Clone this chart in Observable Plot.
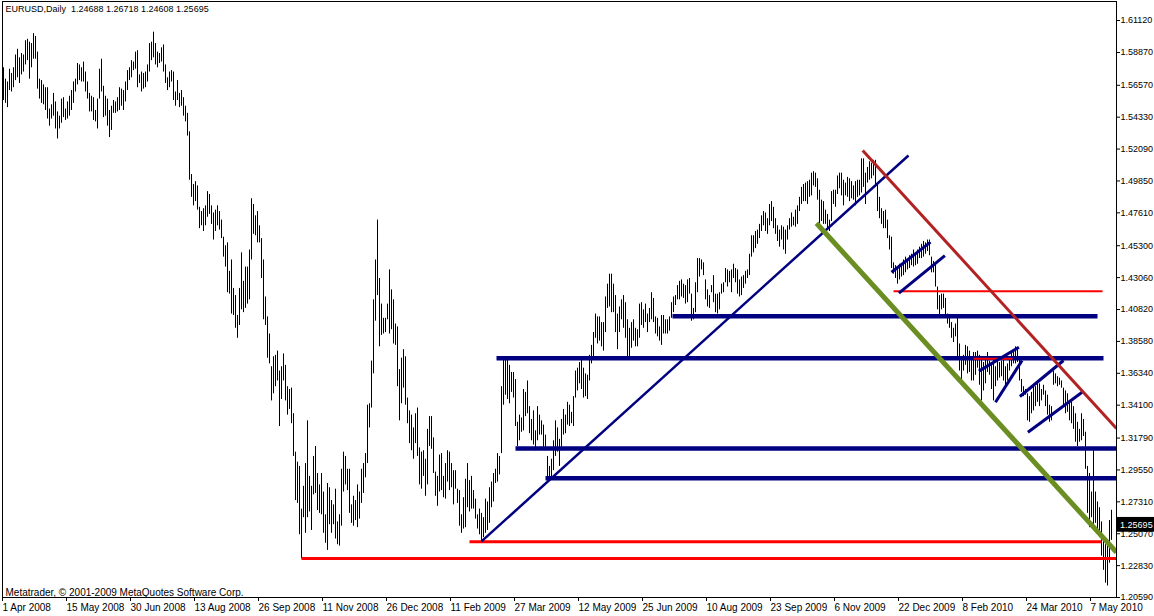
<!DOCTYPE html>
<html><head><meta charset="utf-8">
<script src="https://cdn.jsdelivr.net/npm/d3@7"></script>
<script src="https://cdn.jsdelivr.net/npm/@observablehq/plot@0.6"></script>
<style>
html,body{margin:0;padding:0;background:#fff;}
#chart{width:1154px;height:616px;overflow:hidden;}
</style></head><body><div id="chart"></div>
<script>
// ---- data ----
const symbol = "EURUSD";
const period = "Daily";
const lastBar = {open: 1.24688, high: 1.26718, low: 1.24608, close: 1.25695};

const highs = [
1.578,1.570,1.568,1.577,1.574,1.578,1.587,1.591,1.585,1.588,
1.587,1.597,1.598,1.596,1.595,1.602,1.600,1.589,1.570,1.569,
1.566,1.564,1.564,1.549,1.552,1.560,1.554,1.547,1.544,1.556,
1.557,1.549,1.554,1.558,1.562,1.568,1.570,1.581,1.580,1.578,
1.582,1.575,1.568,1.560,1.558,1.557,1.548,1.556,1.577,1.584,
1.565,1.558,1.556,1.548,1.551,1.555,1.554,1.557,1.564,1.563,
1.562,1.568,1.576,1.578,1.583,1.582,1.589,1.590,1.573,1.575,
1.574,1.575,1.580,1.595,1.596,1.603,1.595,1.589,1.588,1.592,
1.594,1.580,1.571,1.575,1.576,1.575,1.561,1.569,1.560,1.562,
1.557,1.551,1.546,1.533,1.503,1.496,1.498,1.495,1.480,1.477,
1.479,1.481,1.491,1.489,1.481,1.476,1.478,1.481,1.477,1.471,
1.459,1.453,1.455,1.435,1.443,1.423,1.418,1.404,1.423,1.448,
1.428,1.438,1.438,1.450,1.486,1.482,1.474,1.477,1.467,1.458,
1.443,1.417,1.403,1.391,1.368,1.375,1.376,1.379,1.365,1.368,
1.377,1.369,1.354,1.352,1.353,1.335,1.308,1.301,1.298,1.268,
1.284,1.300,1.330,1.291,1.284,1.305,1.312,1.293,1.285,1.293,
1.280,1.264,1.286,1.283,1.274,1.271,1.282,1.259,1.264,1.296,
1.308,1.305,1.296,1.296,1.271,1.277,1.274,1.285,1.280,1.296,
1.300,1.307,1.341,1.342,1.372,1.415,1.443,1.471,1.430,1.412,
1.402,1.402,1.412,1.436,1.422,1.415,1.398,1.396,1.366,1.374,
1.380,1.375,1.346,1.337,1.334,1.325,1.335,1.339,1.311,1.308,
1.309,1.303,1.324,1.333,1.333,1.318,1.294,1.291,1.306,1.307,
1.291,1.300,1.309,1.308,1.300,1.295,1.295,1.282,1.281,1.264,
1.276,1.289,1.300,1.288,1.291,1.281,1.275,1.264,1.268,1.265,
1.262,1.275,1.273,1.283,1.287,1.293,1.296,1.307,1.305,1.354,
1.374,1.374,1.374,1.369,1.364,1.364,1.359,1.329,1.334,1.332,
1.352,1.350,1.358,1.340,1.331,1.337,1.323,1.340,1.334,1.330,
1.327,1.320,1.305,1.298,1.303,1.316,1.330,1.325,1.317,1.331,
1.338,1.334,1.343,1.341,1.336,1.347,1.365,1.367,1.371,1.374,
1.367,1.363,1.362,1.376,1.383,1.392,1.405,1.403,1.403,1.399,
1.399,1.417,1.426,1.433,1.433,1.426,1.418,1.405,1.410,1.415,
1.418,1.413,1.401,1.395,1.399,1.401,1.395,1.394,1.412,1.413,
1.408,1.412,1.405,1.409,1.420,1.416,1.403,1.402,1.396,1.404,
1.404,1.401,1.401,1.403,1.413,1.417,1.418,1.425,1.428,1.429,
1.426,1.425,1.429,1.430,1.419,1.409,1.427,1.444,1.444,1.443,
1.441,1.429,1.422,1.418,1.425,1.432,1.419,1.419,1.420,1.426,
1.427,1.437,1.436,1.435,1.436,1.440,1.437,1.436,1.429,1.431,
1.432,1.435,1.436,1.447,1.460,1.460,1.463,1.464,1.468,1.474,
1.477,1.476,1.472,1.482,1.484,1.480,1.472,1.467,1.464,1.467,
1.466,1.464,1.467,1.472,1.476,1.473,1.478,1.481,1.487,1.494,
1.496,1.497,1.498,1.499,1.504,1.505,1.504,1.500,1.492,1.485,
1.484,1.478,1.475,1.471,1.491,1.492,1.492,1.502,1.504,1.504,
1.499,1.497,1.501,1.500,1.498,1.495,1.498,1.499,1.499,1.514,
1.514,1.504,1.508,1.512,1.511,1.513,1.513,1.496,1.487,1.479,
1.477,1.478,1.471,1.460,1.459,1.441,1.439,1.437,1.440,1.439,
1.443,1.445,1.444,1.446,1.447,1.450,1.448,1.450,1.452,1.454,
1.456,1.455,1.457,1.457,1.445,1.442,1.441,1.424,1.418,1.419,
1.419,1.416,1.405,1.404,1.399,1.395,1.398,1.403,1.384,1.374,
1.376,1.383,1.382,1.379,1.374,1.378,1.378,1.379,1.376,1.375,
1.371,1.374,1.378,1.372,1.369,1.375,1.368,1.375,1.371,1.372,
1.375,1.368,1.370,1.374,1.379,1.378,1.382,1.380,1.374,1.359,
1.354,1.352,1.349,1.347,1.350,1.355,1.354,1.356,1.356,1.352,
1.355,1.351,1.348,1.341,1.340,1.365,1.363,1.361,1.360,1.358,
1.353,1.351,1.349,1.343,1.343,1.340,1.335,1.329,1.324,1.335,
1.331,1.322,1.298,1.293,1.280,1.310,1.280,1.273,1.269,1.259,
1.247,1.243,1.244,1.260,1.26718
];
const lows = [
1.555,1.553,1.550,1.562,1.561,1.564,1.569,1.571,1.567,1.573,
1.575,1.580,1.583,1.570,1.578,1.584,1.584,1.563,1.556,1.553,
1.552,1.548,1.542,1.537,1.542,1.544,1.535,1.528,1.535,1.539,
1.543,1.541,1.542,1.544,1.548,1.553,1.561,1.566,1.569,1.568,
1.568,1.561,1.556,1.547,1.547,1.541,1.540,1.535,1.556,1.561,
1.543,1.544,1.537,1.529,1.534,1.546,1.546,1.547,1.548,1.551,
1.548,1.554,1.562,1.569,1.571,1.576,1.577,1.564,1.567,1.561,
1.563,1.564,1.568,1.575,1.583,1.585,1.580,1.578,1.581,1.582,
1.575,1.567,1.562,1.564,1.568,1.555,1.551,1.555,1.550,1.551,
1.544,1.540,1.530,1.499,1.487,1.481,1.484,1.478,1.465,1.467,
1.463,1.467,1.473,1.475,1.468,1.457,1.463,1.467,1.464,1.458,
1.445,1.438,1.420,1.419,1.405,1.404,1.395,1.388,1.397,1.408,
1.406,1.409,1.412,1.415,1.443,1.461,1.460,1.455,1.455,1.430,
1.401,1.397,1.374,1.370,1.344,1.349,1.354,1.358,1.326,1.345,
1.358,1.344,1.334,1.338,1.328,1.305,1.274,1.272,1.250,1.233,
1.262,1.251,1.262,1.266,1.253,1.278,1.279,1.267,1.265,1.264,
1.251,1.244,1.239,1.257,1.251,1.257,1.247,1.243,1.242,1.256,
1.280,1.285,1.281,1.265,1.258,1.256,1.260,1.255,1.261,1.272,
1.279,1.290,1.300,1.325,1.339,1.363,1.400,1.418,1.382,1.390,
1.391,1.392,1.401,1.391,1.394,1.384,1.383,1.354,1.330,1.342,
1.353,1.341,1.328,1.314,1.309,1.303,1.314,1.305,1.285,1.282,
1.291,1.277,1.285,1.312,1.310,1.293,1.277,1.270,1.280,1.281,
1.276,1.275,1.287,1.281,1.283,1.271,1.282,1.272,1.256,1.251,
1.254,1.255,1.269,1.266,1.268,1.268,1.261,1.254,1.250,1.246,
1.248,1.251,1.253,1.258,1.269,1.273,1.286,1.287,1.292,1.307,
1.341,1.348,1.345,1.342,1.350,1.346,1.326,1.312,1.316,1.322,
1.323,1.333,1.335,1.321,1.316,1.313,1.309,1.316,1.320,1.320,
1.310,1.309,1.288,1.289,1.290,1.295,1.305,1.308,1.298,1.309,
1.320,1.321,1.327,1.326,1.328,1.326,1.346,1.351,1.356,1.352,
1.346,1.347,1.345,1.358,1.370,1.375,1.388,1.384,1.386,1.382,
1.379,1.392,1.409,1.410,1.406,1.406,1.392,1.380,1.392,1.401,
1.395,1.388,1.374,1.374,1.381,1.386,1.382,1.382,1.388,1.397,
1.395,1.399,1.392,1.399,1.401,1.399,1.391,1.389,1.386,1.383,
1.391,1.391,1.391,1.393,1.402,1.406,1.411,1.415,1.415,1.417,
1.416,1.412,1.413,1.419,1.400,1.401,1.406,1.420,1.431,1.436,
1.432,1.415,1.410,1.409,1.420,1.413,1.406,1.405,1.408,1.419,
1.420,1.427,1.424,1.427,1.420,1.430,1.427,1.419,1.417,1.418,
1.423,1.426,1.430,1.432,1.445,1.448,1.451,1.454,1.458,1.463,
1.467,1.463,1.461,1.467,1.470,1.465,1.461,1.456,1.452,1.457,
1.450,1.447,1.457,1.464,1.466,1.467,1.466,1.468,1.477,1.482,
1.484,1.484,1.482,1.487,1.488,1.495,1.494,1.485,1.468,1.470,
1.468,1.468,1.464,1.463,1.470,1.482,1.480,1.489,1.493,1.488,
1.481,1.488,1.487,1.484,1.486,1.485,1.481,1.487,1.488,1.490,
1.494,1.482,1.497,1.499,1.500,1.502,1.494,1.477,1.472,1.468,
1.465,1.465,1.458,1.450,1.437,1.433,1.430,1.426,1.429,1.431,
1.432,1.434,1.436,1.437,1.439,1.438,1.439,1.440,1.444,1.444,
1.445,1.447,1.449,1.446,1.434,1.434,1.424,1.408,1.403,1.408,
1.409,1.404,1.398,1.395,1.388,1.385,1.389,1.375,1.365,1.358,
1.365,1.369,1.363,1.364,1.358,1.358,1.362,1.367,1.355,1.344,
1.351,1.356,1.364,1.362,1.352,1.344,1.354,1.358,1.360,1.361,
1.358,1.354,1.358,1.365,1.368,1.370,1.370,1.371,1.358,1.350,
1.347,1.348,1.330,1.329,1.335,1.337,1.340,1.343,1.340,1.344,
1.348,1.340,1.334,1.329,1.330,1.355,1.356,1.354,1.355,1.353,
1.340,1.335,1.336,1.330,1.328,1.324,1.315,1.312,1.315,1.316,
1.319,1.296,1.265,1.255,1.262,1.253,1.258,1.253,1.248,1.235,
1.225,1.216,1.214,1.230,1.24608
];

const priceTicks = [1.61120,1.58870,1.56570,1.54330,1.52090,1.49850,1.47610,1.45300,1.43060,1.40820,
  1.38580,1.36340,1.34100,1.31790,1.29550,1.27310,1.25070,1.22830,1.20590];
const dateLabels = ["1 Apr 2008","15 May 2008","30 Jun 2008","13 Aug 2008","26 Sep 2008","11 Nov 2008",
  "26 Dec 2008","11 Feb 2009","27 Mar 2009","12 May 2009","25 Jun 2009","10 Aug 2009","23 Sep 2009",
  "6 Nov 2009","22 Dec 2009","8 Feb 2010","24 Mar 2010","7 May 2010"];
const dateBars = [0,32,64,96,128,160,192,224,256,288,320,352,384,416,448,480,512,544];

// chart objects (anchors: bar index, price)
const redLevelPrice = [1.2333, 1.2450, 1.4211, 1.3736];
const redLevelFrom  = [150, 234, 446, 486];
const redLevelTo    = [557.5, 550, 550.5, 505.5];
const navyLevelPrice = [1.4035, 1.3740, 1.3106, 1.2897];
const navyLevelFrom  = [335.5, 247.5, 257, 272];
const navyLevelTo    = [548, 551, 557.5, 557.5];
const trendFrom = {bar: 240, price: 1.2453};
const trendTo   = {bar: 453.5, price: 1.5164};
const greenFrom = {bar: 407.5, price: 1.4688};
const greenTo   = {bar: 557.5, price: 1.2377};
const brickFrom = {bar: 430.6, price: 1.5199};
const brickTo   = {bar: 557.5, price: 1.3246};
const chanBar1   = [445, 448.7, 488.7, 497, 509.2, 513.2];
const chanPrice1 = [1.4344, 1.4197, 1.3649, 1.3431, 1.3471, 1.3220];
const chanBar2   = [464.5, 471.7, 508.7, 510.3, 531, 540.3];
const chanPrice2 = [1.4555, 1.4461, 1.3817, 1.3724, 1.3724, 1.3501];
const copyright = "Metatrader, \u00A9 2001-2009 MetaQuotes Software Corp.";

// ---- build ----
const bars = highs.map((h, k) => ({i: k + 1, high: h, low: lows[k]}));
const redLevels = redLevelPrice.map((p, k) => ({x1: redLevelFrom[k], x2: redLevelTo[k], y: p}));
const navyLevels = navyLevelPrice.map((p, k) => ({x1: navyLevelFrom[k], x2: navyLevelTo[k], y: p}));
const channels = chanBar1.map((b, k) => ({x1: b, y1: chanPrice1[k], x2: chanBar2[k], y2: chanPrice2[k]}));
const seg = (a, b) => [{x1: a.bar, y1: a.price, x2: b.bar, y2: b.price}];
const labelOf = new Map(dateBars.map((b, k) => [b, dateLabels[k]]));
const header = `${symbol},${period}  ${lastBar.open.toFixed(5)} ${lastBar.high.toFixed(5)} ${lastBar.low.toFixed(5)} ${lastBar.close.toFixed(5)}`;

const font = "'Liberation Sans', Arial, sans-serif";
const chart = Plot.plot({
  width: 1154, height: 616,
  marginLeft: 2, marginRight: 38, marginTop: 1, marginBottom: 19,
  style: {fontFamily: font, fontSize: "10px", background: "white", color: "black", overflow: "visible"},
  x: {domain: [0.5, 557.5]},
  y: {domain: [1.20592, 1.62455]},
  marks: [
    Plot.ruleX(bars, {x: "i", y1: "low", y2: "high", stroke: "black", strokeWidth: 1}),
    Plot.link(redLevels.slice(0, 2), {x1: "x1", x2: "x2", y1: "y", y2: "y", stroke: "#ff0000", strokeWidth: 3, clip: true}),
    Plot.link(navyLevels, {x1: "x1", x2: "x2", y1: "y", y2: "y", stroke: "#000080", strokeWidth: 4.5, clip: true}),
    Plot.link(redLevels.slice(2), {x1: "x1", x2: "x2", y1: "y", y2: "y", stroke: "#ff0000", strokeWidth: 2, clip: true}),
    Plot.link(seg(trendFrom, trendTo), {x1: "x1", y1: "y1", x2: "x2", y2: "y2", stroke: "#000080", strokeWidth: 2.5, clip: true}),
    Plot.link(channels, {x1: "x1", y1: "y1", x2: "x2", y2: "y2", stroke: "#000080", strokeWidth: 3, clip: true}),
    Plot.link(seg(greenFrom, greenTo), {x1: "x1", y1: "y1", x2: "x2", y2: "y2", stroke: "#6b8e23", strokeWidth: 5, clip: true}),
    Plot.link(seg(brickFrom, brickTo), {x1: "x1", y1: "y1", x2: "x2", y2: "y2", stroke: "#b22222", strokeWidth: 3, clip: true}),
    Plot.frame({stroke: "black"}),
    Plot.axisY({anchor: "right", ticks: priceTicks, tickFormat: d => d.toFixed(5), tickSize: 3, tickPadding: 1, label: null, fontSize: 9}),
    Plot.axisX({anchor: "bottom", ticks: dateBars, tickFormat: d => labelOf.get(d), tickSize: 4, tickPadding: 2, textAnchor: "start", dx: 1, label: null, fontSize: 10}),
    Plot.rect([lastBar], {x1: 557.5, x2: 576.6, y1: d => d.close - 0.0052, y2: d => d.close + 0.0052, fill: "black"}),
    Plot.text([lastBar], {x: 559.3, y: "close", text: d => d.close.toFixed(5), fill: "white", textAnchor: "start", fontSize: 9}),
    Plot.text([header], {frameAnchor: "top-left", dx: 3, dy: 4, text: d => d, textAnchor: "start", lineAnchor: "top", fontSize: 9}),
    Plot.text([copyright], {frameAnchor: "bottom-left", dx: 3, dy: -2, text: d => d, textAnchor: "start", lineAnchor: "bottom", fontSize: 10})
  ]
});
document.getElementById("chart").appendChild(chart);
</script>
</body></html>
